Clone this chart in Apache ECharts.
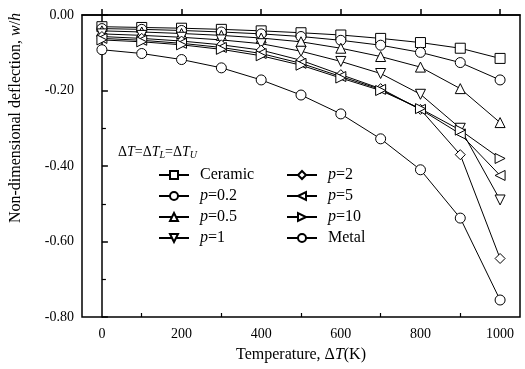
<!DOCTYPE html>
<html>
<head>
<meta charset="utf-8">
<script src="https://cdn.jsdelivr.net/npm/echarts@6/dist/echarts.min.js"></script>
<style>
  html, body { margin: 0; padding: 0; background: #fff; }
  #chart { width: 525px; height: 369px; }
</style>
</head>
<body>
<div id="chart"></div>
<script>
// temperature rise, K
var temps = [0, 100, 200, 300, 400, 500, 600, 700, 800, 900, 1000];
var xMajorTicks = [0, 200, 400, 600, 800, 1000];
var xMinorTicks = [100, 300, 500, 700, 900];

// non-dimensional deflection w/h
var ceramic = [-0.031, -0.033, -0.035, -0.038, -0.042, -0.047, -0.053, -0.062, -0.073, -0.088, -0.115];
var p02 = [-0.036, -0.038, -0.041, -0.045, -0.050, -0.057, -0.067, -0.080, -0.099, -0.126, -0.172];
var p05 = [-0.042, -0.045, -0.049, -0.054, -0.061, -0.071, -0.088, -0.110, -0.138, -0.195, -0.285];
var p1 = [-0.050, -0.054, -0.059, -0.066, -0.076, -0.096, -0.123, -0.155, -0.210, -0.300, -0.490];
var p2 = [-0.057, -0.062, -0.069, -0.079, -0.093, -0.120, -0.158, -0.195, -0.250, -0.370, -0.645];
var p5 = [-0.062, -0.067, -0.075, -0.086, -0.102, -0.128, -0.163, -0.197, -0.250, -0.315, -0.425];
var p10 = [-0.066, -0.071, -0.079, -0.091, -0.108, -0.133, -0.167, -0.200, -0.248, -0.305, -0.380];
var metal = [-0.092, -0.102, -0.118, -0.140, -0.172, -0.212, -0.262, -0.328, -0.410, -0.538, -0.755];

var font = 'Liberation Serif';

function mk(name, values, symbol, rot) {
  return {
    name: name,
    type: 'line',
    data: temps.map(function (t, i) { return [t, values[i]]; }),
    symbol: symbol,
    symbolSize: 10,
    symbolRotate: rot || 0,
    showAllSymbol: true,
    lineStyle: { color: '#000', width: 1 },
    itemStyle: { color: '#fff', borderColor: '#000', borderWidth: 1 },
    animation: false
  };
}

var chart = echarts.init(document.getElementById('chart'));
var legendText = {
  fontFamily: font, fontSize: 16, color: '#000',
  padding: [0, 0, 0, 6],
  rich: { i: { fontFamily: font, fontSize: 16, fontStyle: 'italic' } }
};
var legendFmt = function (n) {
  return n.charAt(0) === 'p' ? '{i|p}' + n.slice(1) : n;
};

var option = {
  backgroundColor: '#fff',
  textStyle: { fontFamily: font },
  grid: {
    left: 81, right: 5, top: 15, bottom: 52,
    show: true, borderColor: '#000', borderWidth: 1.5
  },
  legend: [
    {
      data: ['Ceramic', 'p=0.2', 'p=0.5', 'p=1'],
      orient: 'vertical', left: 153, top: 162,
      itemWidth: 30, itemHeight: 10, itemGap: 5,
      textStyle: legendText, formatter: legendFmt
    },
    {
      data: ['p=2', 'p=5', 'p=10', 'Metal'],
      orient: 'vertical', left: 281, top: 162,
      itemWidth: 30, itemHeight: 10, itemGap: 5,
      textStyle: legendText, formatter: legendFmt
    }
  ],
  graphic: [{
    type: 'text', left: 118, top: 145,
    style: {
      text: 'Δ{i|T}=Δ{i|T}{s|L}=Δ{i|T}{s|U}',
      font: '14px "Liberation Serif"', fill: '#000',
      rich: {
        i: { fontFamily: font, fontSize: 14, fontStyle: 'italic' },
        s: { fontFamily: font, fontSize: 10, fontStyle: 'italic', verticalAlign: 'bottom', padding: [6, 0, 0, 0] }
      }
    }
  }],
  xAxis: [
    {
      type: 'value', min: -50, max: 1050,
      name: 'Temperature, Δ{i|T}(K)', nameLocation: 'middle', nameGap: 30,
      nameTextStyle: {
        fontFamily: font, fontSize: 16, color: '#000',
        rich: { i: { fontFamily: font, fontSize: 16, fontStyle: 'italic' } }
      },
      axisLine: { lineStyle: { color: '#000', width: 1.5 } },
      axisTick: { inside: true, length: 6, customValues: xMajorTicks, lineStyle: { color: '#000', width: 1.5 } },
      axisLabel: {
        customValues: xMajorTicks, margin: 10, fontFamily: font, fontSize: 14, color: '#000',
        formatter: function (v) { return String(v); }
      },
      splitLine: { show: false }
    },
    {
      type: 'value', min: -50, max: 1050, position: 'bottom',
      axisLine: { show: false },
      axisTick: { inside: true, length: 4, customValues: xMinorTicks, lineStyle: { color: '#000', width: 1.2 } },
      axisLabel: { show: false },
      splitLine: { show: false }
    }
  ],
  yAxis: {
    type: 'value', min: -0.8, max: 0, interval: 0.2,
    name: 'Non-dimensional deflection, {i|w}/{i|h}', nameLocation: 'middle', nameGap: 58,
    nameTextStyle: {
      fontFamily: font, fontSize: 16, color: '#000',
      padding: [0, 0, 0, 96],
      rich: { i: { fontFamily: font, fontSize: 16, fontStyle: 'italic' } }
    },
    axisLine: { lineStyle: { color: '#000', width: 1.5 } },
    axisTick: { inside: true, length: 6, lineStyle: { color: '#000', width: 1.5 } },
    minorTick: { show: true, splitNumber: 2, length: 4, lineStyle: { color: '#000', width: 1.2 } },
    axisLabel: {
      margin: 8, fontFamily: font, fontSize: 14, color: '#000',
      formatter: function (v) { return v.toFixed(2); }
    },
    splitLine: { show: false }
  },
  series: [
    mk('Ceramic', ceramic, 'rect'),
    mk('p=0.2', p02, 'circle'),
    mk('p=0.5', p05, 'triangle'),
    mk('p=1', p1, 'triangle', 180),
    mk('p=2', p2, 'diamond'),
    mk('p=5', p5, 'triangle', 90),
    mk('p=10', p10, 'triangle', -90),
    mk('Metal', metal, 'circle')
  ]
};
chart.setOption(option);
</script>
</body>
</html>
